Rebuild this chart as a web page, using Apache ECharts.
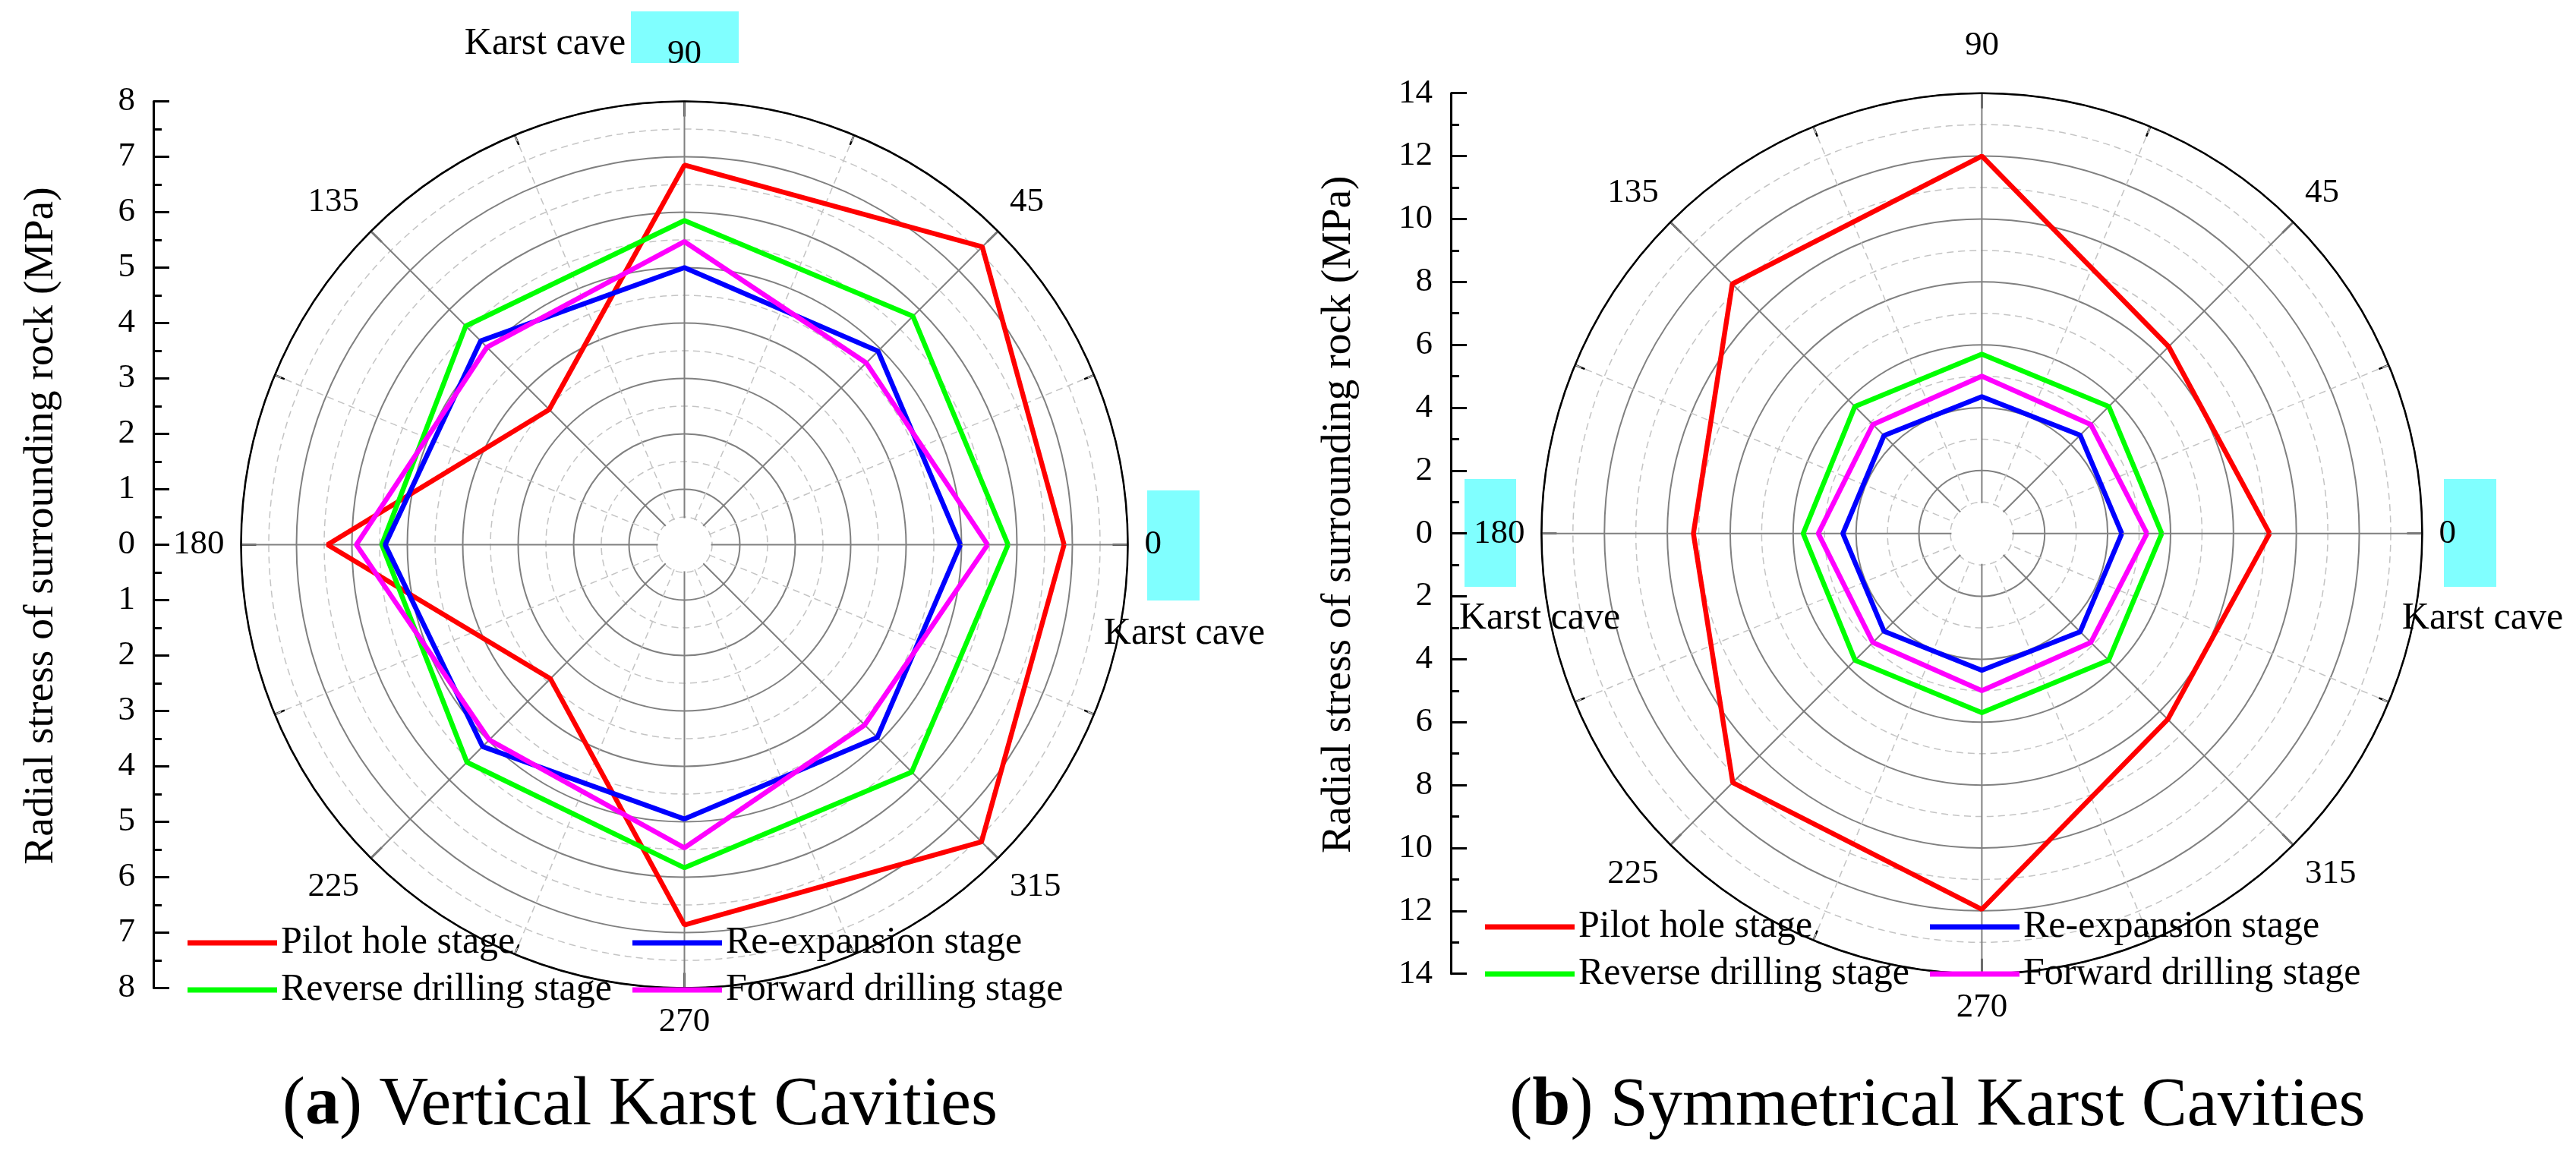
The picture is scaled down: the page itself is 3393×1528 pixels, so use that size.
<!DOCTYPE html>
<html><head><meta charset="utf-8">
<script src="https://cdn.jsdelivr.net/npm/echarts@6/dist/echarts.min.js"></script>
<style>html,body{margin:0;padding:0;background:#fff}#c{width:3393px;height:1528px}</style>
</head><body><div id="c"></div>
<script>
// ---------- data ----------
const angles = [0, 45, 90, 135, 180, 225, 270, 315];
const seriesNames = ['Pilot hole stage', 'Reverse drilling stage', 'Re-expansion stage', 'Forward drilling stage'];
// (a) Vertical karst cavities
const a_pilot   = [6.85, 7.60, 6.85, 3.45, 6.44, 3.42, 6.86, 7.58];
const a_reverse = [5.84, 5.83, 5.85, 5.58, 5.46, 5.55, 5.83, 5.80];
const a_reexp   = [4.98, 4.94, 5.00, 5.20, 5.40, 5.15, 4.95, 4.92];
const a_forward = [5.47, 4.64, 5.47, 5.04, 5.92, 4.98, 5.47, 4.60];
// (b) Symmetrical karst cavities
const b_pilot   = [9.15, 8.40, 12.00, 11.22, 9.17, 11.20, 11.95, 8.36];
const b_reverse = [5.72, 5.71, 5.70, 5.71, 5.68, 5.70, 5.70, 5.70];
const b_reexp   = [4.45, 4.42, 4.35, 4.40, 4.42, 4.40, 4.35, 4.42];
const b_forward = [5.25, 4.90, 5.00, 4.90, 5.20, 4.90, 5.00, 4.90];
const angleTicks = [0, 45, 90, 135, 180, 225, 270, 315];
const yTitle = 'Radial stress of surrounding rock (MPa)';
const captions = [['a', ' Vertical Karst Cavities'], ['b', ' Symmetrical Karst Cavities']];
const caveLabel = 'Karst cave';

// ---------- layout / style ----------
const FONT = 'Liberation Serif';
const COLORS = {
  'Pilot hole stage': '#ff0000',
  'Reverse drilling stage': '#00ff00',
  'Re-expansion stage': '#0000ff',
  'Forward drilling stage': '#ff00ff'
};
const charts = [
  { cx: 901.5, cy: 717.5, r: 584, max: 8, step: 1, axisX: 202, hole: 35,
    values: [a_pilot, a_reverse, a_reexp, a_forward],
    legendTop: 1217, legendLeft: [247, 833],
    boxes: [[831, 15, 142, 68], [1511, 646, 69, 145]],
    caves: [[718, 58], [1560, 835]],
    caption: [843, 1411] },
  { cx: 2610.4, cy: 702.7, r: 580, max: 14, step: 2, axisX: 1911, hole: 40,
    values: [b_pilot, b_reverse, b_reexp, b_forward],
    legendTop: 1196, legendLeft: [1956, 2542],
    boxes: [[1929, 631, 68, 142], [3219, 631, 69, 142]],
    caves: [[2028, 815], [3270, 815]],
    caption: [2552, 1412] }
];

const dashed = { color: '#c4c4c4', width: 1.5, type: [9, 6] };
const major = { color: '#808080', width: 2 };

const option = {
  animation: false,
  backgroundColor: '#ffffff',
  polar: [], angleAxis: [], radiusAxis: [], grid: [], xAxis: [], yAxis: [],
  legend: [], series: [], title: [], graphic: { elements: [] }
};

const anglesClosed = angles.concat([360]);
function closed(arr) { return arr.concat([arr[0]]); }

charts.forEach((c, i) => {
  option.polar.push({ center: [c.cx, c.cy], radius: c.r });
  option.angleAxis.push({
    polarIndex: i, type: 'value', min: 0, max: 360, interval: 45,
    startAngle: 0, clockwise: false, z: 1,
    axisLine: { lineStyle: { color: '#000', width: 2.5 } },
    axisTick: { inside: true, length: 20, lineStyle: { color: '#000', width: 2.5 } },
    minorTick: { show: true, splitNumber: 2, length: 14, lineStyle: { color: '#000', width: 2.5 } },
    splitLine: { show: true, lineStyle: major },
    minorSplitLine: { show: true, lineStyle: dashed },
    axisLabel: {
      margin: 22, color: '#000', fontFamily: FONT, fontSize: 45,
      formatter: v => (angleTicks.indexOf(v) < 0 ? '' : (v === 90 ? '{up|90}' : String(v))),
      rich: { up: { padding: [0, 0, 18, 0], fontFamily: FONT, fontSize: 45, color: '#000' } }
    }
  });
  option.radiusAxis.push({
    polarIndex: i, type: 'value', min: 0, max: c.max, interval: c.step, z: 0,
    axisLine: { show: false }, axisTick: { show: false }, axisLabel: { show: false },
    splitLine: { show: true, lineStyle: major },
    minorTick: { show: false, splitNumber: 2 },
    minorSplitLine: { show: true, lineStyle: dashed }
  });
  const top = c.cy - c.r;
  option.grid.push({ left: c.axisX, top: top, width: 10, height: 2 * c.r });
  option.xAxis.push({ gridIndex: i, type: 'value', show: false, min: 0, max: 1 });
  option.yAxis.push({
    gridIndex: i, type: 'value', min: -c.max, max: c.max, interval: c.step,
    axisLine: { show: true, lineStyle: { color: '#000', width: 3 } },
    axisTick: { show: true, inside: true, length: 21, lineStyle: { color: '#000', width: 3 } },
    minorTick: { show: true, splitNumber: 2, length: 11, lineStyle: { color: '#000', width: 3 } },
    splitLine: { show: false },
    axisLabel: { margin: 24, color: '#000', fontFamily: FONT, fontSize: 45, formatter: v => String(Math.abs(v)) },
    name: yTitle, nameLocation: 'middle', nameGap: 120,
    nameTextStyle: { fontFamily: FONT, fontSize: 55.5, color: '#000', padding: [0, 0, 0, 50] }
  });
  const legendCols = [['Pilot hole stage', 'Reverse drilling stage'], ['Re-expansion stage', 'Forward drilling stage']];
  legendCols.forEach((names, k) => {
    option.legend.push({
      data: names, orient: 'vertical', left: c.legendLeft[k], top: c.legendTop,
      padding: 0, itemGap: 12, itemWidth: 118, itemHeight: 7, icon: 'rect',
      selectedMode: false,
      textStyle: { fontFamily: FONT, fontSize: 50, color: '#000', lineHeight: 50 }
    });
  });
  seriesNames.forEach((name, k) => {
    option.series.push({
      type: 'line', name: name, coordinateSystem: 'polar', polarIndex: i,
      data: closed(c.values[k]).map((v, j) => [v, anglesClosed[j]]),
      symbol: 'none', lineStyle: { width: 6.5, color: COLORS[name] },
      itemStyle: { color: COLORS[name] }, z: 3, silent: true
    });
  });
  option.title.push({
    text: '{p|(}{b|' + captions[i][0] + '}{p|)' + captions[i][1] + '}',
    left: c.caption[0], top: c.caption[1], textAlign: 'center', padding: 0,
    textStyle: { fontWeight: 'normal', fontFamily: FONT, fontSize: 90, color: '#000', rich: {
      p: { fontFamily: FONT, fontSize: 90, color: '#000', fontWeight: 'normal', lineHeight: 92 },
      b: { fontFamily: FONT, fontSize: 90, color: '#000', fontWeight: 'bold', lineHeight: 92 }
    } }
  });
  c.boxes.forEach(b => {
    option.graphic.elements.push({ type: 'rect', z: -1, silent: true,
      shape: { x: b[0], y: b[1], width: b[2], height: b[3] }, style: { fill: '#80ffff' } });
  });
  c.caves.forEach(p => {
    option.graphic.elements.push({ type: 'text', z: 5, silent: true, x: p[0], y: p[1],
      style: { text: caveLabel, font: '50px "' + FONT + '"', fill: '#000',
        align: 'center', verticalAlign: 'middle', textAlign: 'center', textVerticalAlign: 'middle' } });
  });
  option.graphic.elements.push({ type: 'circle', z: 2, silent: true,
    shape: { cx: c.cx, cy: c.cy, r: c.hole }, style: { fill: '#ffffff' } });
});

const chart = echarts.init(document.getElementById('c'), null, { renderer: 'canvas' });
chart.setOption(option);
</script>
</body></html>
